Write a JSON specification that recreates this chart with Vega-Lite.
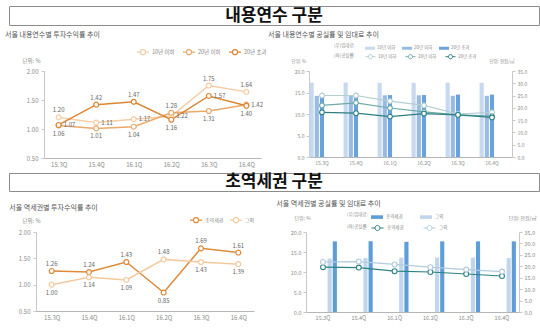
{
  "$schema": "https://vega.github.io/schema/vega-lite/v6.json",
  "padding": {"left": 5, "top": 5, "right": 5, "bottom": 0},
  "background": "white",
  "config": {
    "font": "Noto Sans CJK KR",
    "view": {"stroke": null},
    "axis": {"labelFont": "Noto Sans CJK KR", "titleFont": "Noto Sans CJK KR", "labelFontSize": 6, "labelColor": "#8a8a8a", "domainColor": "#c8c8c8", "tickColor": "#c8c8c8", "grid": false, "titleFontWeight": "normal", "titleFontSize": 5.5, "titleColor": "#8a8a8a"},
    "legend": {"labelFont": "Noto Sans CJK KR", "labelFontSize": 5.5, "labelColor": "#8a8a8a", "titleFont": "Noto Sans CJK KR", "titleFontWeight": "normal", "titleFontSize": 5, "titleColor": "#8a8a8a"},
    "title": {"font": "Noto Sans CJK KR", "fontWeight": "normal", "fontSize": 7, "color": "#555555", "anchor": "start"}
  },
  "spacing": 5,
  "bounds": "full",
  "resolve": {"scale": {"x": "independent", "y": "independent", "fill": "independent", "stroke": "independent"}, "legend": {"fill": "independent", "stroke": "independent"}},
  "vconcat": [
    {
      "width": 530, "height": 19,
      "view": {"stroke": "#8c8c8c"},
      "data": {"values": [{"h": "내용연수 구분"}]},
      "mark": {"type": "text", "fontSize": 17, "fontWeight": "bold", "color": "#111111"},
      "encoding": {
        "text": {"field": "h"},
        "x": {"field": "h", "type": "nominal", "axis": null}
      }
    },
    {
      "hconcat": [
        {"width": 25, "height": 1, "data": {"values": [{"a": 1}]}, "mark": {"type": "point", "opacity": 0}},
        {
          "width": 217, "height": 87,
          "title": {"text": "서울 내용연수별 투자수익률 추이", "dx": -17, "offset": 7},
          "data": {"values": [
            {"q": "15.3Q", "yr": "10년 이하", "v": 1.20}, {"q": "15.3Q", "yr": "20년 이하", "v": 1.06}, {"q": "15.3Q", "yr": "20년 초과", "v": 1.07},
            {"q": "15.4Q", "yr": "10년 이하", "v": 1.11}, {"q": "15.4Q", "yr": "20년 이하", "v": 1.01}, {"q": "15.4Q", "yr": "20년 초과", "v": 1.42},
            {"q": "16.1Q", "yr": "10년 이하", "v": 1.17}, {"q": "16.1Q", "yr": "20년 이하", "v": 1.04}, {"q": "16.1Q", "yr": "20년 초과", "v": 1.47},
            {"q": "16.2Q", "yr": "10년 이하", "v": 1.22}, {"q": "16.2Q", "yr": "20년 이하", "v": 1.28}, {"q": "16.2Q", "yr": "20년 초과", "v": 1.16},
            {"q": "16.3Q", "yr": "10년 이하", "v": 1.75}, {"q": "16.3Q", "yr": "20년 이하", "v": 1.31}, {"q": "16.3Q", "yr": "20년 초과", "v": 1.57},
            {"q": "16.4Q", "yr": "10년 이하", "v": 1.64}, {"q": "16.4Q", "yr": "20년 이하", "v": 1.42}, {"q": "16.4Q", "yr": "20년 초과", "v": 1.40}
          ]},
          "encoding": {
            "x": {"field": "q", "type": "ordinal", "sort": null, "scale": {"type": "point", "padding": 0.39}, "axis": {"title": null, "labelAngle": 0, "ticks": false, "labelPadding": 3, "domainColor": "#b5b5b5"}},
            "y": {"field": "v", "type": "quantitative", "scale": {"domain": [0.5, 2.0]}, "axis": {"values": [0.5, 1, 1.5, 2], "format": ".2f", "tickSize": 3, "labelPadding": 3, "title": "단위: %", "titleAngle": 0, "titleAlign": "left", "titleBaseline": "middle", "titleX": -22, "titleY": -11}}
          },
          "layer": [
            {"mark": {"type": "line", "strokeWidth": 1.5}, "encoding": {"stroke": {"field": "yr", "type": "nominal", "scale": {"domain": ["10년 이하", "20년 이하", "20년 초과"], "range": ["#f5cca3", "#eaa96b", "#db8533"]}, "legend": {"title": null, "orient": "none", "legendX": 92, "legendY": -26, "direction": "horizontal", "symbolType": "M-1,0L-0.42,0M0.42,0L1,0M0.42,0A0.42,0.42,0,1,1,-0.42,0A0.42,0.42,0,1,1,0.42,0", "symbolSize": 144, "symbolStrokeWidth": 1.1, "labelOffset": 2, "columnPadding": 5}}}},
            {"mark": {"type": "point", "filled": true, "fill": "white", "size": 24, "strokeWidth": 1.2, "opacity": 1}, "encoding": {"stroke": {"field": "yr", "type": "nominal", "scale": {"domain": ["10년 이하", "20년 이하", "20년 초과"], "range": ["#f5cca3", "#eaa96b", "#db8533"]}, "legend": {"title": null, "orient": "none", "legendX": 92, "legendY": -26, "direction": "horizontal", "symbolType": "M-1,0L-0.42,0M0.42,0L1,0M0.42,0A0.42,0.42,0,1,1,-0.42,0A0.42,0.42,0,1,1,0.42,0", "symbolSize": 144, "symbolStrokeWidth": 1.1, "labelOffset": 2, "columnPadding": 5}}}},
            {"transform": [{"window": [{"op": "rank", "as": "rk"}], "groupby": ["q"], "sort": [{"field": "v", "order": "descending"}]}, {"filter": "datum.rk == 1"}],
             "mark": {"type": "text", "fontSize": 6, "color": "#666666", "dy": -7}, "encoding": {"text": {"field": "v", "format": ".2f"}}},
            {"transform": [{"window": [{"op": "rank", "as": "rk"}], "groupby": ["q"], "sort": [{"field": "v", "order": "descending"}]}, {"filter": "datum.rk == 3"}],
             "mark": {"type": "text", "fontSize": 6, "color": "#666666", "dy": 8}, "encoding": {"text": {"field": "v", "format": ".2f"}}},
            {"transform": [{"window": [{"op": "rank", "as": "rk"}], "groupby": ["q"], "sort": [{"field": "v", "order": "descending"}]}, {"filter": "datum.rk == 2"}],
             "mark": {"type": "text", "fontSize": 6, "color": "#666666", "align": "left", "dx": 5}, "encoding": {"text": {"field": "v", "format": ".2f"}}}
          ]
        },
        {"width": 28, "height": 1, "data": {"values": [{"a": 1}]}, "mark": {"type": "point", "opacity": 0}},
        {
          "width": 203, "height": 86,
          "title": {"text": "서울 내용연수별 공실률 및 임대료 추이", "dx": -23, "offset": 5},
          "data": {"values": [
            {"q": "15.3Q", "yr": "10년 이하", "rent": 30.3, "vac": 14.3}, {"q": "15.3Q", "yr": "20년 이하", "rent": 24.9, "vac": 12.0}, {"q": "15.3Q", "yr": "20년 초과", "rent": 25.3, "vac": 10.4},
            {"q": "15.4Q", "yr": "10년 이하", "rent": 30.3, "vac": 14.3}, {"q": "15.4Q", "yr": "20년 이하", "rent": 25.1, "vac": 12.6}, {"q": "15.4Q", "yr": "20년 초과", "rent": 25.2, "vac": 10.2},
            {"q": "16.1Q", "yr": "10년 이하", "rent": 30.2, "vac": 13.0}, {"q": "16.1Q", "yr": "20년 이하", "rent": 25.1, "vac": 11.4}, {"q": "16.1Q", "yr": "20년 초과", "rent": 25.2, "vac": 9.4},
            {"q": "16.2Q", "yr": "10년 이하", "rent": 30.2, "vac": 12.0}, {"q": "16.2Q", "yr": "20년 이하", "rent": 25.1, "vac": 10.5}, {"q": "16.2Q", "yr": "20년 초과", "rent": 25.2, "vac": 10.1},
            {"q": "16.3Q", "yr": "10년 이하", "rent": 30.2, "vac": 10.0}, {"q": "16.3Q", "yr": "20년 이하", "rent": 24.9, "vac": 9.8}, {"q": "16.3Q", "yr": "20년 초과", "rent": 25.4, "vac": 9.8},
            {"q": "16.4Q", "yr": "10년 이하", "rent": 30.2, "vac": 10.4}, {"q": "16.4Q", "yr": "20년 이하", "rent": 24.9, "vac": 9.5}, {"q": "16.4Q", "yr": "20년 초과", "rent": 25.4, "vac": 9.2}
          ]},
          "encoding": {
            "x": {"field": "q", "type": "nominal", "sort": null, "scale": {"type": "band", "paddingInner": 0.27, "paddingOuter": 0.12, "align": 0.07}, "axis": {"title": null, "labelAngle": 0, "ticks": false, "labelPadding": 3, "labelFontSize": 5, "domainColor": "#b5b5b5"}}
          },
          "layer": [
            {"mark": {"type": "bar"},
             "encoding": {
               "xOffset": {"field": "yr", "type": "nominal", "sort": ["10년 이하", "20년 이하", "20년 초과"], "scale": {"paddingInner": 0.2}},
               "y": {"field": "rent", "type": "quantitative", "scale": {"domain": [0, 35]}, "axis": {"orient": "right", "values": [0, 5, 10, 15, 20, 25, 30, 35], "format": ".1f", "labelFontSize": 5, "tickSize": 3, "labelPadding": 2, "title": "단위: 천원/㎡", "titleFontSize": 4.5, "titleAngle": 0, "titleAlign": "right", "titleBaseline": "middle", "titleX": 2, "titleY": -10}},
               "fill": {"field": "yr", "type": "nominal", "scale": {"domain": ["10년 이하", "20년 이하", "20년 초과"], "range": ["#c6d9f0", "#98bbe4", "#6aa3dc"]}, "legend": {"title": "(우)임대료:", "titleOrient": "left", "titlePadding": 10, "titleFontSize": 4.5, "orient": "none", "legendX": 25, "legendY": -28, "direction": "horizontal", "symbolType": "M-1,-0.3L1,-0.3L1,0.3L-1,0.3Z", "symbolSize": 100, "symbolStrokeWidth": 0, "labelFontSize": 4.5, "labelOffset": 2, "columnPadding": 6}}
             }},
            {"encoding": {"y": {"field": "vac", "type": "quantitative", "scale": {"domain": [0, 20]}, "axis": {"orient": "left", "values": [0, 5, 10, 15, 20], "format": ".1f", "labelFontSize": 5, "tickSize": 3, "labelPadding": 2, "title": "단위: %", "titleFontSize": 4.5, "titleAngle": 0, "titleAlign": "left", "titleBaseline": "middle", "titleX": -18, "titleY": -10}}},
             "layer": [
               {"mark": {"type": "line", "strokeWidth": 1.2}, "encoding": {"stroke": {"field": "yr", "type": "nominal", "sort": ["10년 이하", "20년 이하", "20년 초과"], "scale": {"range": ["#b3cfd2", "#6fa9a8", "#2b7f80"]}, "legend": {"title": "(좌)공실률:", "titleOrient": "left", "titlePadding": 10, "titleFontSize": 4.5, "orient": "none", "legendX": 25, "legendY": -20, "direction": "horizontal", "symbolType": "M-1,0L-0.42,0M0.42,0L1,0M0.42,0A0.42,0.42,0,1,1,-0.42,0A0.42,0.42,0,1,1,0.42,0", "symbolSize": 100, "symbolStrokeWidth": 1, "labelFontSize": 4.5, "labelOffset": 2, "columnPadding": 6}}}},
               {"mark": {"type": "point", "filled": true, "fill": "white", "size": 22, "strokeWidth": 1.1, "opacity": 1}, "encoding": {"stroke": {"field": "yr", "type": "nominal", "sort": ["10년 이하", "20년 이하", "20년 초과"], "scale": {"range": ["#b3cfd2", "#6fa9a8", "#2b7f80"]}, "legend": {"title": "(좌)공실률:", "titleOrient": "left", "titlePadding": 10, "titleFontSize": 4.5, "orient": "none", "legendX": 25, "legendY": -20, "direction": "horizontal", "symbolType": "M-1,0L-0.42,0M0.42,0L1,0M0.42,0A0.42,0.42,0,1,1,-0.42,0A0.42,0.42,0,1,1,0.42,0", "symbolSize": 100, "symbolStrokeWidth": 1, "labelFontSize": 4.5, "labelOffset": 2, "columnPadding": 6}}}}
             ]}
          ],
          "resolve": {"scale": {"y": "independent"}}
        }
      ],
      "spacing": 10,
      "bounds": "flush",
      "resolve": {"scale": {"x": "independent", "y": "independent", "fill": "independent", "stroke": "independent"}, "legend": {"fill": "independent", "stroke": "independent"}}
    },
    {
      "width": 530, "height": 18,
      "view": {"stroke": "#8c8c8c"},
      "data": {"values": [{"h": "초역세권 구분"}]},
      "mark": {"type": "text", "fontSize": 17, "fontWeight": "bold", "color": "#111111"},
      "encoding": {
        "text": {"field": "h"},
        "x": {"field": "h", "type": "nominal", "axis": {"labels": false, "ticks": false, "domain": false, "title": ".", "titleColor": "#ffffff", "titleFontSize": 3, "titlePadding": 0}}
      }
    },
    {
      "hconcat": [
        {"width": 17, "height": 1, "data": {"values": [{"a": 1}]}, "mark": {"type": "point", "opacity": 0}},
        {
          "width": 218, "height": 79,
          "title": {"text": "서울 역세권별 투자수익률 추이", "dx": -9, "offset": 2},
          "data": {"values": [
            {"q": "15.3Q", "st": "초역세권", "v": 1.26}, {"q": "15.3Q", "st": "그외", "v": 1.00},
            {"q": "15.4Q", "st": "초역세권", "v": 1.24}, {"q": "15.4Q", "st": "그외", "v": 1.14},
            {"q": "16.1Q", "st": "초역세권", "v": 1.43}, {"q": "16.1Q", "st": "그외", "v": 1.09},
            {"q": "16.2Q", "st": "초역세권", "v": 0.85}, {"q": "16.2Q", "st": "그외", "v": 1.48},
            {"q": "16.3Q", "st": "초역세권", "v": 1.69}, {"q": "16.3Q", "st": "그외", "v": 1.43},
            {"q": "16.4Q", "st": "초역세권", "v": 1.61}, {"q": "16.4Q", "st": "그외", "v": 1.39}
          ]},
          "encoding": {
            "x": {"field": "q", "type": "ordinal", "sort": null, "scale": {"type": "point", "padding": 0.42}, "axis": {"title": null, "labelAngle": 0, "ticks": false, "labelPadding": 3, "domainColor": "#b5b5b5"}},
            "y": {"field": "v", "type": "quantitative", "scale": {"domain": [0.5, 2.0]}, "axis": {"values": [0.5, 1, 1.5, 2], "format": ".2f", "tickSize": 3, "labelPadding": 3, "title": "단위: %", "titleAngle": 0, "titleAlign": "left", "titleBaseline": "middle", "titleX": -14, "titleY": -12}}
          },
          "layer": [
            {"mark": {"type": "line", "strokeWidth": 1.5}, "encoding": {"stroke": {"field": "st", "type": "nominal", "scale": {"domain": ["초역세권", "그외"], "range": ["#de8a37", "#f4c99d"]}, "legend": {"title": null, "orient": "none", "legendX": 153, "legendY": -19, "direction": "horizontal", "symbolType": "M-1,0L-0.42,0M0.42,0L1,0M0.42,0A0.42,0.42,0,1,1,-0.42,0A0.42,0.42,0,1,1,0.42,0", "symbolSize": 144, "symbolStrokeWidth": 1.1, "labelFontSize": 5, "labelOffset": 2, "columnPadding": 3}}}},
            {"mark": {"type": "point", "filled": true, "fill": "white", "size": 24, "strokeWidth": 1.2, "opacity": 1}, "encoding": {"stroke": {"field": "st", "type": "nominal", "scale": {"domain": ["초역세권", "그외"], "range": ["#de8a37", "#f4c99d"]}, "legend": {"title": null, "orient": "none", "legendX": 153, "legendY": -19, "direction": "horizontal", "symbolType": "M-1,0L-0.42,0M0.42,0L1,0M0.42,0A0.42,0.42,0,1,1,-0.42,0A0.42,0.42,0,1,1,0.42,0", "symbolSize": 144, "symbolStrokeWidth": 1.1, "labelFontSize": 5, "labelOffset": 2, "columnPadding": 3}}}},
            {"transform": [{"window": [{"op": "rank", "as": "rk"}], "groupby": ["q"], "sort": [{"field": "v", "order": "descending"}]}, {"filter": "datum.rk == 1"}],
             "mark": {"type": "text", "fontSize": 6, "color": "#666666", "dy": -7}, "encoding": {"text": {"field": "v", "format": ".2f"}}},
            {"transform": [{"window": [{"op": "rank", "as": "rk"}], "groupby": ["q"], "sort": [{"field": "v", "order": "descending"}]}, {"filter": "datum.rk == 2"}],
             "mark": {"type": "text", "fontSize": 6, "color": "#666666", "dy": 8}, "encoding": {"text": {"field": "v", "format": ".2f"}}}
          ]
        },
        {"width": 32, "height": 1, "data": {"values": [{"a": 1}]}, "mark": {"type": "point", "opacity": 0}},
        {
          "width": 213, "height": 80,
          "title": {"text": "서울 역세권별 공실률 및 임대료 추이", "dx": -14, "offset": 4},
          "data": {"values": [
            {"q": "15.3Q", "st": "초역세권", "rent": 30.9, "vac": 11.2}, {"q": "15.3Q", "st": "그외", "rent": 23.4, "vac": 12.5},
            {"q": "15.4Q", "st": "초역세권", "rent": 31.0, "vac": 11.1}, {"q": "15.4Q", "st": "그외", "rent": 23.6, "vac": 12.6},
            {"q": "16.1Q", "st": "초역세권", "rent": 30.7, "vac": 10.2}, {"q": "16.1Q", "st": "그외", "rent": 23.8, "vac": 11.9},
            {"q": "16.2Q", "st": "초역세권", "rent": 30.9, "vac": 10.0}, {"q": "16.2Q", "st": "그외", "rent": 23.8, "vac": 11.2},
            {"q": "16.3Q", "st": "초역세권", "rent": 30.9, "vac": 9.5}, {"q": "16.3Q", "st": "그외", "rent": 23.8, "vac": 10.6},
            {"q": "16.4Q", "st": "초역세권", "rent": 30.9, "vac": 9.0}, {"q": "16.4Q", "st": "그외", "rent": 23.6, "vac": 10.1}
          ]},
          "encoding": {
            "x": {"field": "q", "type": "nominal", "sort": null, "scale": {"type": "band", "paddingInner": 0.39, "paddingOuter": 0.17}, "axis": {"title": null, "labelAngle": 0, "ticks": false, "labelPadding": 3, "labelFontSize": 5.5, "domainColor": "#b5b5b5"}}
          },
          "layer": [
            {"mark": {"type": "bar"},
             "encoding": {
               "xOffset": {"field": "st", "type": "nominal", "sort": ["초역세권", "그외"], "scale": {"paddingInner": 0.25}},
               "y": {"field": "rent", "type": "quantitative", "scale": {"domain": [0, 35]}, "axis": {"orient": "right", "values": [0, 5, 10, 15, 20, 25, 30, 35], "format": ".1f", "labelFontSize": 5.5, "tickSize": 3, "labelPadding": 2, "title": "단위: 천원/㎡", "titleFontSize": 5, "titleAngle": 0, "titleAlign": "right", "titleBaseline": "middle", "titleX": 17, "titleY": -15}},
               "fill": {"field": "st", "type": "nominal", "scale": {"domain": ["초역세권", "그외"], "range": ["#5e9dd6", "#bfd6ee"]}, "legend": {"title": "(우)임대료:", "titleOrient": "left", "titlePadding": 3, "titleFontSize": 4.5, "orient": "none", "legendX": 41, "legendY": -21, "direction": "horizontal", "symbolType": "M-1,-0.3L1,-0.3L1,0.3L-1,0.3Z", "symbolSize": 144, "symbolStrokeWidth": 0, "labelFontSize": 4.5, "labelOffset": 3, "columnPadding": 17}}
             }},
            {"encoding": {"y": {"field": "vac", "type": "quantitative", "scale": {"domain": [0, 20]}, "axis": {"orient": "left", "values": [0, 5, 10, 15, 20], "format": ".1f", "labelFontSize": 5.5, "tickSize": 3, "labelPadding": 2, "title": "단위: %", "titleFontSize": 5, "titleAngle": 0, "titleAlign": "left", "titleBaseline": "middle", "titleX": -12, "titleY": -15}}},
             "layer": [
               {"mark": {"type": "line", "strokeWidth": 1.2}, "encoding": {"stroke": {"field": "st", "type": "nominal", "sort": ["초역세권", "그외"], "scale": {"range": ["#2b8283", "#b3cbdd"]}, "legend": {"title": "(좌)공실률:", "titleOrient": "left", "titlePadding": 3, "titleFontSize": 4.5, "orient": "none", "legendX": 41, "legendY": -11, "direction": "horizontal", "symbolType": "M-1,0L-0.42,0M0.42,0L1,0M0.42,0A0.42,0.42,0,1,1,-0.42,0A0.42,0.42,0,1,1,0.42,0", "symbolSize": 144, "symbolStrokeWidth": 1, "labelFontSize": 4.5, "labelOffset": 3, "columnPadding": 17}}}},
               {"mark": {"type": "point", "filled": true, "fill": "white", "size": 24, "strokeWidth": 1.1, "opacity": 1}, "encoding": {"stroke": {"field": "st", "type": "nominal", "sort": ["초역세권", "그외"], "scale": {"range": ["#2b8283", "#b3cbdd"]}, "legend": {"title": "(좌)공실률:", "titleOrient": "left", "titlePadding": 3, "titleFontSize": 4.5, "orient": "none", "legendX": 41, "legendY": -11, "direction": "horizontal", "symbolType": "M-1,0L-0.42,0M0.42,0L1,0M0.42,0A0.42,0.42,0,1,1,-0.42,0A0.42,0.42,0,1,1,0.42,0", "symbolSize": 144, "symbolStrokeWidth": 1, "labelFontSize": 4.5, "labelOffset": 3, "columnPadding": 17}}}}
             ]}
          ],
          "resolve": {"scale": {"y": "independent"}}
        }
      ],
      "spacing": 10,
      "bounds": "flush",
      "resolve": {"scale": {"x": "independent", "y": "independent", "fill": "independent", "stroke": "independent"}, "legend": {"fill": "independent", "stroke": "independent"}}
    }
  ]
}
